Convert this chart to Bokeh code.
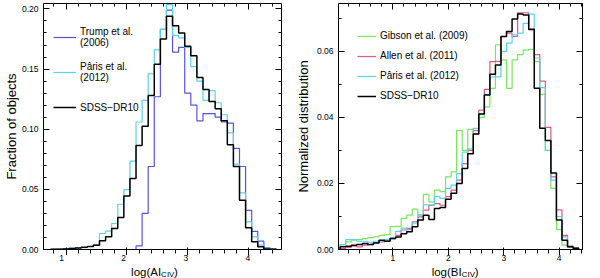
from bokeh.plotting import figure
from bokeh.layouts import row, column
from bokeh.models import (LinearAxis, Range1d, Label, Legend, LegendItem,
                          SingleIntervalTicker, NumeralTickFormatter,
                          CustomJSTickFormatter)
from bokeh.core.properties import value
from bokeh.embed import file_html
from bokeh.resources import INLINE

FONT = "Liberation Sans"

# ---------------- left panel: AI_CIV ----------------
ai_edges = [0.65, 0.75, 0.85, 0.95, 1.05, 1.15, 1.25, 1.35, 1.45, 1.55,
            1.65, 1.75, 1.85, 1.95, 2.05, 2.15, 2.25, 2.35, 2.45, 2.55,
            2.65, 2.75, 2.85, 2.95, 3.05, 3.15, 3.25, 3.35, 3.45, 3.55,
            3.65, 3.75, 3.85, 3.95, 4.05, 4.15, 4.25, 4.35, 4.45]
ai_trump = [0, 0, 0, 0, 0, 0, 0, 0, 0, 0, 0, 0, 0, 0, 0,
            0.003, 0.030, 0.069, 0.127, 0.183, 0.199, 0.164, 0.168, 0.130,
            0.120, 0.107, 0.113, 0.113, 0.110, 0.106, 0.105, 0.084, 0.069,
            0.0326, 0.015, 0.007, 0.0014, 0.0008]
ai_paris = [0.0, 0.0003, 0.0005, 0.0008, 0.0012, 0.0014, 0.0015, 0.0025,
            0.0040, 0.0133, 0.0152, 0.0216, 0.0376, 0.0497, 0.0735, 0.106,
            0.124, 0.146, 0.166, 0.183, 0.2035, 0.178, 0.176, 0.168, 0.152,
            0.140, 0.124, 0.132, 0.122, 0.112, 0.097, 0.071, 0.047, 0.023,
            0.0105, 0.0036, 0.001, 0.0005]
ai_dr10 = [0.0, 0.0002, 0.0003, 0.0005, 0.0008, 0.0012, 0.0018, 0.0025,
           0.0036, 0.0072, 0.0105, 0.0174, 0.0265, 0.0445, 0.059, 0.0865,
           0.1025, 0.128, 0.154, 0.175, 0.194, 0.186, 0.180, 0.169, 0.161,
           0.143, 0.133, 0.123, 0.117, 0.107, 0.087, 0.069, 0.041, 0.018,
           0.0064, 0.0022, 0.0005, 0.0003]

# ---------------- right panel: BI_CIV ----------------
bi_edges = [0.05, 0.15, 0.25, 0.35, 0.45, 0.55, 0.65, 0.75, 0.85, 0.95,
            1.05, 1.15, 1.25, 1.35, 1.45, 1.55, 1.65, 1.75, 1.85, 1.95,
            2.05, 2.15, 2.25, 2.35, 2.45, 2.55, 2.65, 2.75, 2.85, 2.95,
            3.05, 3.15, 3.25, 3.35, 3.45, 3.55, 3.65, 3.75, 3.85, 3.95,
            4.05, 4.15, 4.25, 4.35]
bi_gibson = [0.0015, 0.0023, 0.0028, 0.0030, 0.0033, 0.0036, 0.0038, 0.0043,
             0.0045, 0.0069, 0.0070, 0.0094, 0.0104, 0.0122, 0.0104, 0.0167,
             0.0144, 0.0180, 0.0175, 0.0220, 0.0235, 0.0361, 0.0300, 0.0364,
             0.0350, 0.0400, 0.0432, 0.0488, 0.0620, 0.0574, 0.0488, 0.0574,
             0.0590, 0.0604, 0.0606, 0.0570, 0.0470, 0.0300, 0.0185, 0.0060,
             0.0013, 0.0006, 0.0003]
bi_allen = [0.0003, 0.0006, 0.0010, 0.0008, 0.0013, 0.0015, 0.0020, 0.0023,
            0.0028, 0.0033, 0.0043, 0.0059, 0.0064, 0.0084, 0.0099, 0.0119,
            0.0134, 0.0139, 0.0134, 0.0160, 0.0180, 0.0210, 0.0260, 0.0300,
            0.0360, 0.0422, 0.0485, 0.0569, 0.0570, 0.0645, 0.0655, 0.0645,
            0.0717, 0.0717, 0.0665, 0.0590, 0.0510, 0.0370, 0.0220, 0.0120,
            0.0043, 0.0010, 0.0005]
bi_paris = [0.0015, 0.0030, 0.0030, 0.0025, 0.0025, 0.0022, 0.0025, 0.0025,
            0.0030, 0.0035, 0.0055, 0.0065, 0.0060, 0.0080, 0.0105, 0.0135,
            0.0135, 0.0160, 0.0155, 0.0185, 0.0195, 0.0230, 0.0295, 0.0305,
            0.0367, 0.0410, 0.0470, 0.0523, 0.0523, 0.0600, 0.0625, 0.0650,
            0.0655, 0.0685, 0.0713, 0.0580, 0.0490, 0.0300, 0.0210, 0.0100,
            0.0038, 0.0008, 0.0004]
bi_dr10 = [0.0008, 0.0010, 0.0013, 0.0015, 0.0018, 0.0015, 0.0020, 0.0028,
           0.0025, 0.0033, 0.0038, 0.0048, 0.0054, 0.0069, 0.0089, 0.0104,
           0.0091, 0.0124, 0.0127, 0.0152, 0.0170, 0.0200, 0.0245, 0.0290,
           0.0350, 0.0410, 0.0468, 0.0531, 0.0559, 0.0645, 0.0660, 0.0698,
           0.0713, 0.0710, 0.0667, 0.0488, 0.0367, 0.0330, 0.0232, 0.0089,
           0.0028, 0.0008, 0.0004]

x_ticks = [1, 2, 3, 4]
x_tick_labels = ["1", "2", "3", "4"]

C_TRUMP = "#5555dc"
C_PARIS = "#5ad2eb"
C_GIBSON = "#7ae65c"
C_ALLEN = "#e65484"
C_DR10 = "#000000"

LX = (0.63, 4.54)
RX = (0.02, 4.42)
MAIN_H = 255
STRIP_H = 28
OVERLAP = 5


def step_xy(edges, vals):
    first = next(i for i, v in enumerate(vals) if v > 0) if any(vals) else 0
    e = list(edges[first:])
    v = list(vals[first:])
    return [e[0]] + e, [0.0] + v + [0.0]


def make_fig(width, xr, yr, bl, br, yint, yminor):
    p = figure(width=width, height=MAIN_H, x_range=xr,
               y_range=Range1d(*yr), output_backend="svg",
               toolbar_location=None, min_border_left=bl,
               min_border_right=br, min_border_top=3, min_border_bottom=1)
    p.xgrid.visible = False
    p.ygrid.visible = False
    p.outline_line_color = "black"
    p.outline_line_width = 1
    p.outline_line_alpha = 1
    p.background_fill_color = "white"
    blank = CustomJSTickFormatter(code="return '';")
    p.xaxis.ticker = SingleIntervalTicker(interval=1, num_minor_ticks=5)
    p.xaxis.formatter = blank
    p.yaxis.ticker = SingleIntervalTicker(interval=yint, num_minor_ticks=yminor)
    p.yaxis.formatter = NumeralTickFormatter(format="0.00")
    top = LinearAxis(ticker=SingleIntervalTicker(interval=1, num_minor_ticks=5),
                     formatter=blank)
    right = LinearAxis(ticker=SingleIntervalTicker(interval=yint, num_minor_ticks=yminor),
                       formatter=blank)
    p.add_layout(top, "above")
    p.add_layout(right, "right")
    for ax in [p.xaxis[0], p.yaxis[0], top, right]:
        ax.axis_line_color = None
        ax.major_tick_in = 6
        ax.major_tick_out = 0
        ax.minor_tick_in = 3
        ax.minor_tick_out = 0
        ax.major_tick_line_color = "black"
        ax.minor_tick_line_color = "black"
        ax.major_label_text_font = FONT
        ax.major_label_text_font_size = "8.5px"
        ax.major_label_text_color = "black"
    for ax in [top, right, p.xaxis[0]]:
        ax.major_label_standoff = 0
        ax.axis_label_standoff = 0
        ax.major_label_text_font_size = "0px"
    p.yaxis[0].major_label_standoff = 5
    p.yaxis[0].axis_label_text_font = FONT
    p.yaxis[0].axis_label_text_font_size = "13px"
    p.yaxis[0].axis_label_text_font_style = "normal"
    p.yaxis[0].axis_label_text_color = "black"
    return p


def label_strip(width, xr, bl, br, x, main, sub, tail, w_main, w_sub):
    s = figure(width=width, height=STRIP_H, x_range=xr,
               y_range=Range1d(-STRIP_H, 0),
               output_backend="svg", toolbar_location=None,
               x_axis_type=None, y_axis_type=None, min_border_left=bl,
               min_border_right=br, min_border_top=0, min_border_bottom=0)
    s.outline_line_color = None
    s.xgrid.visible = False
    s.ygrid.visible = False
    s.background_fill_alpha = 0
    s.border_fill_alpha = 0
    s.text(x=x_ticks, y=[-7.5] * len(x_ticks), text=x_tick_labels,
           text_font=value(FONT), text_font_size="8.5px", text_color="black",
           text_align="center", text_baseline="middle")
    kw = dict(y=-21, x_units="data", y_units="data", text_font=FONT,
              text_color="black", text_baseline="middle", text_align="left")
    s.add_layout(Label(x=x, text=main, text_font_size="11.5px", **kw))
    s.add_layout(Label(x=x, text=sub, x_offset=w_main, y_offset=-2.5,
                       text_font_size="8px", **kw))
    s.add_layout(Label(x=x, text=tail, x_offset=w_main + w_sub,
                       text_font_size="11.5px", **kw))
    return s


LEG_KW = dict(label_text_font=FONT, label_text_font_size="10px",
              label_text_color="black", label_standoff=4, padding=0,
              margin=0, border_line_color=None, background_fill_alpha=0)

# ---- left figure
xrL = Range1d(*LX)
pL = make_fig(292, xrL, (0, 0.2045), 38, 11, 0.05, 5)
pL.yaxis[0].axis_label = "Fraction of objects"
pL.yaxis[0].axis_label_standoff = 0
x, y = step_xy(ai_edges, ai_trump)
rT = pL.step(x, y, mode="after", line_color=C_TRUMP, line_width=1.2)
x, y = step_xy(ai_edges, ai_paris)
rP = pL.step(x, y, mode="after", line_color=C_PARIS, line_width=1.2)
x, y = step_xy(ai_edges, ai_dr10)
rD = pL.step(x, y, mode="after", line_color=C_DR10, line_width=1.5)
legL = Legend(items=[LegendItem(label="Trump et al.\n(2006)", renderers=[rT]),
                     LegendItem(label="Pâris et al.\n(2012)", renderers=[rP]),
                     LegendItem(label="SDSS\u2212DR10", renderers=[rD])],
              location=(10, 127), label_text_line_height=1.0,
              glyph_width=23, glyph_height=16, label_height=30, spacing=5,
              **LEG_KW)
pL.add_layout(legL)
sL = label_strip(292, xrL, 38, 11, 2.12, "log(AI", "CIV", " )", 30, 13)

# ---- right figure
xrR = Range1d(*RX)
pR = make_fig(292, xrR, (0, 0.0745), 46, 2, 0.02, 2)
pR.yaxis[0].axis_label = "Normalized distribution"
pR.yaxis[0].axis_label_standoff = 3
x, y = step_xy(bi_edges, bi_gibson)
rG = pR.step(x, y, mode="after", line_color=C_GIBSON, line_width=1.2)
x, y = step_xy(bi_edges, bi_allen)
rA = pR.step(x, y, mode="after", line_color=C_ALLEN, line_width=1.2)
x, y = step_xy(bi_edges, bi_paris)
rP2 = pR.step(x, y, mode="after", line_color=C_PARIS, line_width=1.2)
x, y = step_xy(bi_edges, bi_dr10)
rD2 = pR.step(x, y, mode="after", line_color=C_DR10, line_width=1.5)
legR = Legend(items=[LegendItem(label="Gibson et al. (2009)", renderers=[rG]),
                     LegendItem(label="Allen et al. (2011)", renderers=[rA]),
                     LegendItem(label="Pâris et al. (2012)", renderers=[rP2]),
                     LegendItem(label="SDSS\u2212DR10", renderers=[rD2])],
              location=(19, 145), glyph_width=19, glyph_height=16,
              label_height=17, spacing=3, **LEG_KW)
pR.add_layout(legR)
sR = label_strip(292, xrR, 46, 2, 1.70, "log(BI", "CIV", " )", 30, 13)

strips = row(sL, sR, margin=(-OVERLAP, 0, 0, 0))
layout = column(row(pL, pR), strips)
open("out.html", "w").write(file_html(layout, INLINE))
